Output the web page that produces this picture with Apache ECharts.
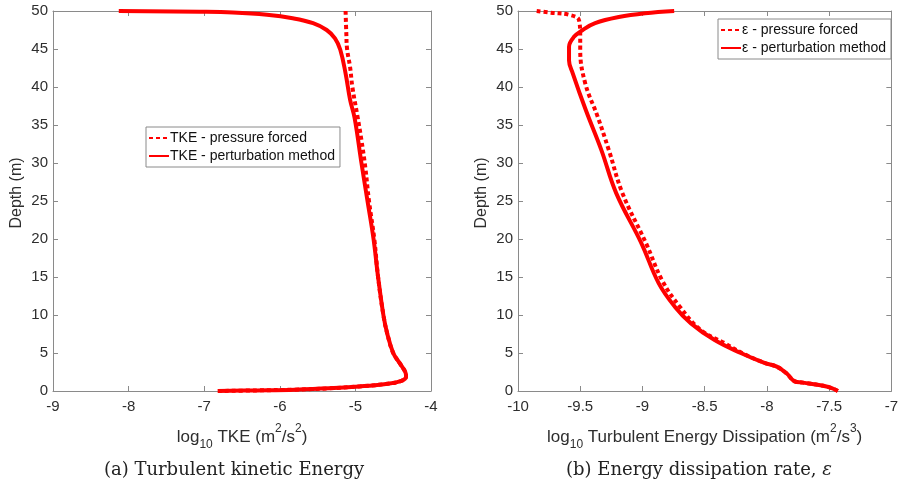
<!DOCTYPE html>
<html>
<head>
<meta charset="utf-8">
<script src="https://cdn.jsdelivr.net/npm/echarts@6/dist/echarts.min.js"></script>
<style>
  html, body { margin: 0; padding: 0; background: #fff; }
  #chart { width: 901px; height: 487px; }
</style>
</head>
<body>
<div id="chart"></div>
<script>
// Depth profiles (m) and log10 values for the two panels.

// (a) TKE, pressure forced
const tkeDepthPress = [50, 47, 45, 42.6, 40, 36, 33, 29.5, 25, 20, 15, 10, 7.6, 5, 3.6, 2.5, 1.9, 1.3, 0.9, 0.6, 0.35, 0.18, 0.08, 0];
const tkePress      = [-5.13, -5.12, -5.11, -5.07, -5.04, -4.97, -4.92, -4.87, -4.82, -4.75, -4.70, -4.63, -4.58, -4.50, -4.41, -4.34, -4.33, -4.40, -4.62, -4.95, -5.35, -5.80, -6.30, -6.82];

// (a) TKE, perturbation method
const tkeDepthPert = [50, 49.9, 49.8, 49.5, 49.05, 48.4, 47.5, 46.4, 44.9, 41.8, 38.3, 35.9, 30, 25, 20, 15, 10, 7.6, 5, 3.6, 2.5, 1.9, 1.3, 0.9, 0.6, 0.35, 0.18, 0.08, 0];
const tkePert      = [-8.13, -7.06, -6.62, -6.17, -5.83, -5.56, -5.38, -5.27, -5.20, -5.13, -5.07, -5.01, -4.92, -4.84, -4.76, -4.70, -4.63, -4.58, -4.50, -4.41, -4.34, -4.33, -4.40, -4.62, -4.95, -5.35, -5.80, -6.30, -6.82];

// (b) dissipation rate, pressure forced
const epsDepthPress = [50, 49.75, 49.5, 48.8, 46.6, 44.9, 40.5, 36.1, 31.7, 26, 19.4, 14.5, 11.1, 8, 6.3, 5.0, 3.7, 3.2, 2.3, 1.3, 1.1, 0.75, 0.45, 0];
const epsPress      = [-9.85, -9.72, -9.59, -9.51, -9.50, -9.50, -9.46, -9.36, -9.27, -9.16, -8.97, -8.84, -8.70, -8.53, -8.34, -8.20, -8.02, -7.92, -7.84, -7.78, -7.71, -7.57, -7.49, -7.43];

// (b) dissipation rate, perturbation method
const epsDepthPert = [50, 49.7, 49.2, 48.4, 47.5, 46.6, 45.3, 43.5, 41.8, 37, 31.7, 26, 19.5, 14.2, 11.1, 8.9, 6.7, 5.0, 3.7, 3.2, 2.3, 1.3, 1.1, 0.75, 0.45, 0];
const epsPert      = [-8.745, -8.98, -9.19, -9.38, -9.48, -9.55, -9.59, -9.59, -9.56, -9.456, -9.33, -9.21, -9.01, -8.87, -8.74, -8.61, -8.42, -8.21, -8.02, -7.92, -7.84, -7.78, -7.71, -7.57, -7.49, -7.43];

// Axis ranges and tick steps
const tkeRange = [-9, -4], tkeStep = 1;
const epsRange = [-10, -7], epsStep = 0.5;
const depthRange = [0, 50], depthStep = 5;

const legendA = ['TKE - pressure forced', 'TKE - perturbation method'];
const legendB = ['\u03b5 - pressure forced', '\u03b5 - perturbation method'];

const zip = (xs, ys) => xs.map((x, i) => [x, ys[i]]);

const AXIS_COLOR = '#8a8a8a';
const TEXT_COLOR = '#2e2e2e';
const FONT = '"Liberation Sans", Arial, sans-serif';
const SERIF = '"DejaVu Serif", serif';
const RED = '#ff0000';

const richSubSup = {
  sub: { fontSize: 12, fontFamily: FONT, color: TEXT_COLOR, verticalAlign: 'bottom', lineHeight: 12 },
  sup: { fontSize: 12, fontFamily: FONT, color: TEXT_COLOR, verticalAlign: 'top', lineHeight: 12 }
};

function xAxisPair(grid, range, step, name) {
  const base = {
    gridIndex: grid, type: 'value', min: range[0], max: range[1], interval: step,
    axisLine: { show: true, onZero: false, lineStyle: { color: AXIS_COLOR, width: 1 } },
    axisTick: { show: true, inside: true, length: 5, lineStyle: { color: AXIS_COLOR } },
    splitLine: { show: false }
  };
  return [
    Object.assign({}, base, {
      position: 'bottom',
      axisLabel: { color: TEXT_COLOR, fontSize: 15, fontFamily: FONT, margin: 8 },
      name: name, nameLocation: 'middle', nameGap: 32,
      nameTextStyle: { color: TEXT_COLOR, fontSize: 17, fontFamily: FONT, lineHeight: 28, rich: richSubSup }
    }),
    Object.assign({}, base, { position: 'top', axisLabel: { show: false } })
  ];
}

function yAxisPair(grid) {
  const base = {
    gridIndex: grid, type: 'value', min: depthRange[0], max: depthRange[1], interval: depthStep,
    axisLine: { show: true, onZero: false, lineStyle: { color: AXIS_COLOR, width: 1 } },
    axisTick: { show: true, inside: true, length: 5, lineStyle: { color: AXIS_COLOR } },
    splitLine: { show: false }
  };
  return [
    Object.assign({}, base, {
      position: 'left',
      axisLabel: { color: TEXT_COLOR, fontSize: 15, fontFamily: FONT, margin: 5 },
      name: 'Depth (m)', nameLocation: 'middle', nameGap: 28,
      nameTextStyle: { color: TEXT_COLOR, fontSize: 16, fontFamily: FONT, padding: [0, 0, 0, 16] }
    }),
    Object.assign({}, base, { position: 'right', axisLabel: { show: false } })
  ];
}

function profile(name, xs, ys, axisIdx, dotted) {
  return {
    name: name, type: 'line', xAxisIndex: axisIdx, yAxisIndex: axisIdx,
    data: zip(xs, ys), showSymbol: false, symbol: 'none',
    smooth: 0.4,
    lineStyle: { color: RED, width: 4, type: dotted ? [4, 3] : 'solid', cap: 'butt', join: 'round' },
    itemStyle: { color: RED },
    z: dotted ? 2 : 3
  };
}

const legendStyle = {
  orient: 'vertical', itemWidth: 20, itemHeight: 12, itemGap: 4,
  padding: [4, 5, 4, 2], borderColor: '#8a8a8a', borderWidth: 1, backgroundColor: '#fff',
  itemStyle: { opacity: 0, borderWidth: 0 },
  textStyle: { color: '#111', fontSize: 14, fontFamily: FONT, padding: [0, 0, 0, -4] }
};

const option = {
  animation: false,
  backgroundColor: '#ffffff',
  grid: [
    { left: 53, top: 11, width: 378, height: 380 },
    { left: 518, top: 11, width: 378, height: 380 }
  ],
  xAxis: [
    ...xAxisPair(0, tkeRange, tkeStep, 'log{sub|10} TKE (m{sup|2}/s{sup|2})'),
    ...xAxisPair(1, epsRange, epsStep, 'log{sub|10} Turbulent Energy Dissipation (m{sup|2}/s{sup|3})')
  ],
  yAxis: [...yAxisPair(0), ...yAxisPair(1)],
  legend: [
    Object.assign({ left: 146, top: 127, data: legendA }, legendStyle),
    Object.assign({ left: 718, top: 19, data: legendB }, legendStyle)
  ],
  series: [
    profile(legendA[0], tkePress, tkeDepthPress, 0, true),
    profile(legendA[1], tkePert, tkeDepthPert, 0, false),
    profile(legendB[0], epsPress, epsDepthPress, 2, true),
    profile(legendB[1], epsPert, epsDepthPert, 2, false)
  ],
  graphic: [
    {
      type: 'text', x: 234, y: 470,
      style: {
        text: '(a) Turbulent kinetic Energy',
        font: '18px ' + SERIF, fill: '#222',
        align: 'center', verticalAlign: 'middle'
      }
    },
    {
      type: 'text', x: 699, y: 470,
      style: {
        text: '(b) Energy dissipation rate, {e|\u03b5}',
        font: '18px ' + SERIF, fill: '#222',
        align: 'center', verticalAlign: 'middle',
        rich: { e: { fontStyle: 'italic', fontSize: 18, fontFamily: 'DejaVu Serif', fill: '#222' } }
      }
    }
  ]
};

const chart = echarts.init(document.getElementById('chart'), null, { renderer: 'canvas' });
chart.setOption(option);
</script>
</body>
</html>
